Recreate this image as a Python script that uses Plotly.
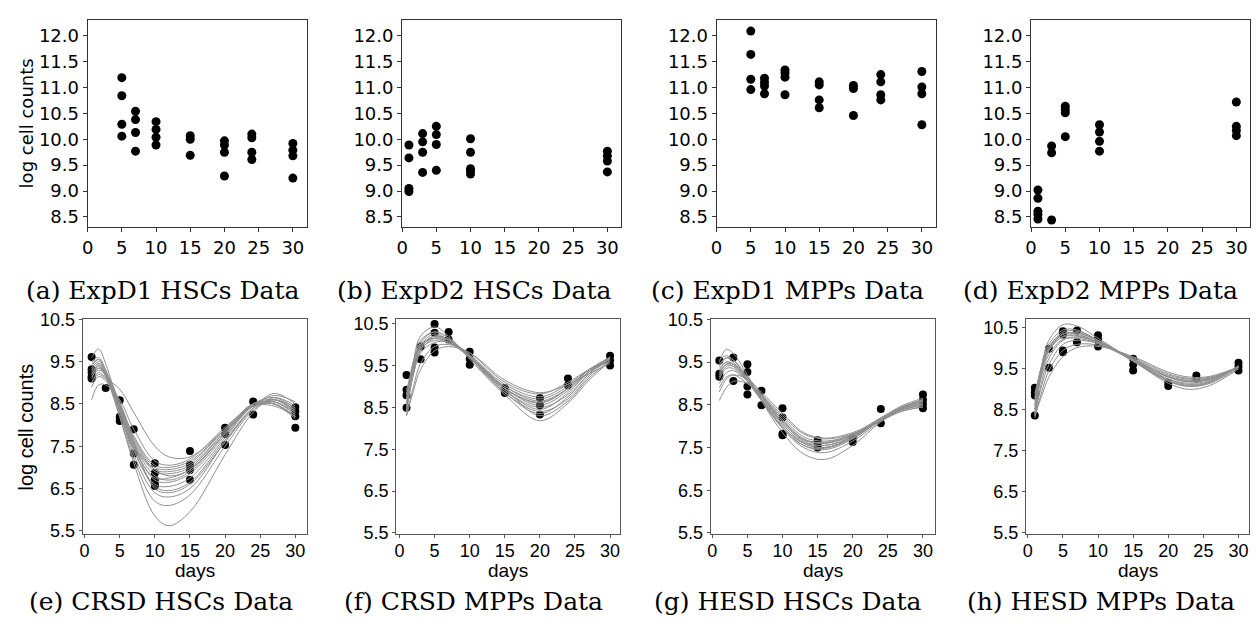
import plotly.graph_objects as go

# ---------------- top row: raw data ----------------
a_days = [5, 5, 5, 5, 7, 7, 7, 7, 10, 10, 10, 10, 15, 15, 15, 20, 20, 20, 20, 24, 24, 24, 24, 30, 30, 30, 30]
a_vals = [11.19, 10.84, 10.29, 10.06, 10.54, 10.38, 10.13, 9.77, 10.34, 10.19, 10.04, 9.89,
          10.07, 10.0, 9.69, 9.97, 9.89, 9.75, 9.29, 10.1, 10.03, 9.75, 9.61, 9.92, 9.79, 9.68, 9.25]

b_days = [1, 1, 1, 1, 3, 3, 3, 3, 5, 5, 5, 5, 10, 10, 10, 10, 10, 30, 30, 30, 30]
b_vals = [9.89, 9.64, 9.05, 8.99, 10.11, 9.95, 9.75, 9.36, 10.25, 10.09, 9.9, 9.4,
          10.01, 9.75, 9.43, 9.39, 9.33, 9.77, 9.68, 9.58, 9.37]

c_days = [5, 5, 5, 5, 7, 7, 7, 7, 10, 10, 10, 10, 15, 15, 15, 15, 20, 20, 20, 24, 24, 24, 24, 30, 30, 30, 30]
c_vals = [12.09, 11.64, 11.16, 10.96, 11.18, 11.1, 11.03, 10.88, 11.34, 11.28, 11.2, 10.86,
          11.11, 11.05, 10.76, 10.61, 11.04, 10.98, 10.46, 11.25, 11.11, 10.86, 10.76, 11.31, 11.01, 10.88, 10.28]

d_days = [1, 1, 1, 1, 1, 3, 3, 3, 5, 5, 5, 5, 10, 10, 10, 10, 30, 30, 30, 30]
d_vals = [9.02, 8.86, 8.61, 8.55, 8.46, 9.87, 9.74, 8.44, 10.64, 10.57, 10.51, 10.05,
          10.28, 10.14, 9.96, 9.77, 10.72, 10.25, 10.17, 10.07]

# ---------------- bottom row: data points ----------------
e_days = [1, 1, 1, 1, 1, 3, 5, 5, 5, 7, 7, 7, 10, 10, 10, 10, 10, 15, 15, 15, 15, 20, 20, 20, 24, 24, 30, 30, 30, 30]
e_vals = [9.61, 9.32, 9.25, 9.15, 9.1, 8.88, 8.59, 8.2, 8.1, 7.9, 7.33, 7.06, 7.1, 6.87, 6.71, 6.6, 6.56,
          7.39, 7.06, 6.94, 6.71, 7.94, 7.79, 7.53, 8.56, 8.25, 8.42, 8.33, 8.21, 7.94]

f_days = [1, 1, 1, 1, 3, 3, 5, 5, 5, 5, 7, 7, 10, 10, 10, 15, 15, 20, 20, 20, 24, 24, 30, 30, 30]
f_vals = [9.27, 8.92, 8.79, 8.49, 9.95, 9.65, 10.49, 10.28, 9.93, 9.81, 10.3, 10.12, 9.83, 9.66, 9.52,
          8.96, 8.84, 8.72, 8.55, 8.33, 9.19, 9.03, 9.73, 9.62, 9.5]

g_days = [1, 1, 1, 3, 3, 5, 5, 5, 5, 7, 7, 10, 10, 10, 10, 15, 15, 15, 20, 20, 24, 24, 30, 30, 30, 30]
g_vals = [9.54, 9.23, 9.16, 9.61, 9.06, 9.45, 9.27, 8.93, 8.74, 8.83, 8.49, 8.42, 8.2, 7.82, 7.79,
          7.67, 7.6, 7.5, 7.73, 7.63, 8.4, 8.07, 8.74, 8.62, 8.52, 8.42]

h_days = [1, 1, 1, 1, 3, 3, 5, 5, 5, 5, 7, 7, 10, 10, 10, 15, 15, 15, 20, 20, 24, 24, 30, 30, 30]
h_vals = [9.04, 8.93, 8.85, 8.36, 9.99, 9.53, 10.42, 10.34, 9.95, 9.91, 10.44, 10.15, 10.32, 10.21, 10.05,
          9.75, 9.6, 9.46, 9.16, 9.08, 9.34, 9.26, 9.65, 9.56, 9.46]

# ---------------- bottom row: fitted trajectories ----------------
e_curve_days = [1, 2, 3, 5, 7, 10, 12, 15, 20, 24, 27, 30]
e_curves = [
    [9.3, 9.45, 9.2, 8.2, 7.1, 5.85, 5.62, 5.95, 7.3, 8.3, 8.65, 8.45],
    [9.2, 9.4, 9.15, 8.2, 7.2, 6.2, 6.1, 6.35, 7.5, 8.35, 8.6, 8.4],
    [9.4, 9.55, 9.25, 8.3, 7.3, 6.4, 6.3, 6.5, 7.6, 8.4, 8.6, 8.35],
    [9.1, 9.35, 9.15, 8.35, 7.4, 6.55, 6.45, 6.65, 7.65, 8.4, 8.6, 8.3],
    [9.5, 9.6, 9.3, 8.3, 7.4, 6.6, 6.55, 6.75, 7.7, 8.45, 8.55, 8.25],
    [9.3, 9.45, 9.2, 8.4, 7.5, 6.7, 6.65, 6.85, 7.75, 8.45, 8.55, 8.3],
    [9.25, 9.4, 9.2, 8.45, 7.55, 6.8, 6.7, 6.9, 7.8, 8.45, 8.5, 8.2],
    [9.6, 9.8, 9.45, 8.4, 7.45, 6.75, 6.75, 6.95, 7.8, 8.5, 8.6, 8.35],
    [9.0, 9.25, 9.1, 8.45, 7.6, 6.9, 6.85, 7.0, 7.85, 8.5, 8.55, 8.25],
    [9.35, 9.5, 9.25, 8.5, 7.65, 6.95, 6.9, 7.05, 7.85, 8.45, 8.5, 8.2],
    [8.9, 9.15, 9.05, 8.5, 7.7, 7.0, 6.95, 7.1, 7.9, 8.5, 8.5, 8.15],
    [9.45, 9.55, 9.3, 8.55, 7.75, 7.05, 7.0, 7.15, 7.9, 8.5, 8.5, 8.2],
    [8.6, 8.95, 8.95, 8.6, 7.9, 7.15, 7.05, 7.2, 7.95, 8.45, 8.45, 8.2],
    [9.0, 9.2, 9.1, 8.85, 8.3, 7.5, 7.25, 7.25, 7.9, 8.45, 8.7, 8.55],
    [9.15, 9.3, 9.2, 8.5, 7.6, 6.5, 6.4, 6.6, 7.6, 8.4, 8.75, 8.5],
    [9.2, 9.35, 9.2, 8.4, 7.5, 6.95, 6.8, 6.95, 7.8, 8.5, 8.65, 8.4],
]

f_curve_days = [1, 2, 3, 5, 7, 10, 15, 20, 24, 27, 30]
f_curves = [
    [8.4, 9.6, 10.2, 10.42, 10.2, 9.65, 8.8, 8.18, 8.6, 9.15, 9.6],
    [8.6, 9.6, 10.1, 10.3, 10.15, 9.7, 8.85, 8.35, 8.75, 9.3, 9.7],
    [8.7, 9.55, 10.0, 10.25, 10.1, 9.7, 8.9, 8.45, 8.85, 9.35, 9.7],
    [8.5, 9.4, 9.95, 10.2, 10.1, 9.72, 8.95, 8.55, 8.9, 9.35, 9.65],
    [8.8, 9.5, 9.95, 10.15, 10.05, 9.7, 8.95, 8.6, 8.95, 9.4, 9.65],
    [8.4, 9.3, 9.85, 10.15, 10.1, 9.75, 9.0, 8.65, 8.95, 9.35, 9.6],
    [8.9, 9.5, 9.9, 10.1, 10.05, 9.72, 9.0, 8.7, 9.0, 9.4, 9.65],
    [8.6, 9.3, 9.8, 10.05, 10.05, 9.75, 9.05, 8.75, 9.05, 9.4, 9.6],
    [8.3, 9.0, 9.55, 9.95, 10.0, 9.8, 9.1, 8.82, 9.1, 9.4, 9.6],
    [8.3, 8.9, 9.4, 9.85, 9.95, 9.8, 9.15, 8.85, 9.05, 9.3, 9.55],
    [8.7, 9.45, 9.95, 10.2, 10.1, 9.7, 8.9, 8.5, 8.8, 9.3, 9.7],
    [8.55, 9.5, 10.05, 10.3, 10.15, 9.68, 8.85, 8.4, 8.7, 9.25, 9.68],
    [8.8, 9.6, 10.0, 10.15, 10.05, 9.7, 8.95, 8.62, 8.95, 9.4, 9.7],
    [8.45, 9.35, 9.9, 10.2, 10.12, 9.72, 8.95, 8.3, 8.65, 9.2, 9.62],
]

g_curve_days = [1, 2, 3, 5, 7, 10, 13, 16, 20, 24, 27, 30]
g_curves = [
    [9.5, 9.8, 9.7, 9.2, 8.6, 7.85, 7.35, 7.22, 7.55, 8.1, 8.4, 8.55],
    [9.4, 9.6, 9.55, 9.15, 8.65, 7.95, 7.5, 7.38, 7.65, 8.12, 8.42, 8.6],
    [9.3, 9.5, 9.45, 9.1, 8.65, 8.0, 7.55, 7.45, 7.7, 8.15, 8.42, 8.58],
    [9.2, 9.45, 9.4, 9.05, 8.65, 8.05, 7.6, 7.5, 7.72, 8.15, 8.4, 8.55],
    [9.55, 9.65, 9.55, 9.1, 8.6, 7.95, 7.55, 7.48, 7.72, 8.15, 8.43, 8.6],
    [9.1, 9.35, 9.35, 9.05, 8.7, 8.1, 7.65, 7.55, 7.75, 8.15, 8.4, 8.52],
    [9.0, 9.25, 9.3, 9.05, 8.7, 8.15, 7.7, 7.6, 7.78, 8.15, 8.38, 8.5],
    [9.35, 9.5, 9.45, 9.1, 8.7, 8.1, 7.68, 7.6, 7.8, 8.18, 8.45, 8.62],
    [8.9, 9.15, 9.2, 9.0, 8.72, 8.2, 7.75, 7.65, 7.8, 8.15, 8.38, 8.48],
    [8.6, 8.9, 9.05, 9.0, 8.75, 8.25, 7.82, 7.7, 7.82, 8.12, 8.35, 8.45],
    [9.25, 9.45, 9.45, 9.15, 8.75, 8.15, 7.7, 7.62, 7.82, 8.2, 8.45, 8.6],
    [9.45, 9.6, 9.5, 9.05, 8.6, 7.98, 7.6, 7.5, 7.75, 8.18, 8.48, 8.65],
    [8.8, 9.1, 9.2, 9.1, 8.8, 8.3, 7.85, 7.72, 7.85, 8.15, 8.35, 8.45],
    [9.15, 9.4, 9.4, 9.1, 8.7, 8.05, 7.62, 7.55, 7.76, 8.16, 8.44, 8.62],
]

h_curve_days = [1, 2, 3, 5, 7, 10, 15, 20, 23, 26, 30]
h_curves = [
    [8.5, 9.6, 10.2, 10.58, 10.55, 10.25, 9.7, 9.15, 9.0, 9.1, 9.5],
    [8.6, 9.6, 10.1, 10.45, 10.45, 10.2, 9.7, 9.2, 9.07, 9.15, 9.52],
    [8.4, 9.4, 9.95, 10.35, 10.38, 10.2, 9.72, 9.25, 9.12, 9.2, 9.55],
    [8.8, 9.6, 10.05, 10.35, 10.35, 10.15, 9.7, 9.25, 9.15, 9.22, 9.55],
    [8.9, 9.55, 9.95, 10.3, 10.32, 10.15, 9.72, 9.3, 9.18, 9.25, 9.55],
    [8.35, 9.2, 9.75, 10.2, 10.28, 10.15, 9.75, 9.3, 9.2, 9.25, 9.55],
    [8.6, 9.35, 9.85, 10.22, 10.25, 10.12, 9.72, 9.32, 9.22, 9.27, 9.55],
    [8.4, 9.1, 9.6, 10.1, 10.2, 10.12, 9.75, 9.35, 9.25, 9.28, 9.55],
    [8.3, 8.95, 9.45, 9.95, 10.1, 10.08, 9.78, 9.38, 9.27, 9.3, 9.55],
    [8.35, 8.85, 9.3, 9.8, 10.02, 10.05, 9.8, 9.42, 9.3, 9.32, 9.55],
    [8.7, 9.55, 10.0, 10.35, 10.38, 10.18, 9.7, 9.22, 9.1, 9.18, 9.55],
    [8.5, 9.45, 10.0, 10.4, 10.42, 10.2, 9.68, 9.2, 9.08, 9.17, 9.58],
    [8.75, 9.5, 9.95, 10.28, 10.3, 10.14, 9.74, 9.3, 9.2, 9.25, 9.56],
]

captions = ["(a) ExpD1 HSCs Data", "(b) ExpD2 HSCs Data", "(c) ExpD1 MPPs Data", "(d) ExpD2 MPPs Data",
            "(e) CRSD HSCs Data", "(f) CRSD MPPs Data", "(g) HESD HSCs Data", "(h) HESD MPPs Data"]
top_yticks = [8.5, 9.0, 9.5, 10.0, 10.5, 11.0, 11.5, 12.0]
bottom_yticks = [5.5, 6.5, 7.5, 8.5, 9.5, 10.5]
xticks = [0, 5, 10, 15, 20, 25, 30]

# ---------------- layout geometry (pixels) ----------------
W, H = 1256, 632
top_px = [(82, 302), (398, 618), (714, 934), (1030, 1250)]
top_py = (10, 224)
bot_px = [(77, 302), (392, 617), (708, 933), (1025, 1249)]
bot_py = (319, 540)
bot_xr = [(-0.28, 31.6), (-0.48, 31.42), (-0.24, 31.65), (-0.24, 31.5)]
bot_yr = [(5.43, 10.5), (5.48, 10.6), (5.48, 10.5), (5.47, 10.71)]
cap_x = [157, 471, 785, 1100, 156, 470, 785, 1100]

fig = go.Figure()

top_data = [(a_days, a_vals), (b_days, b_vals), (c_days, c_vals), (d_days, d_vals)]
bot_data = [(e_days, e_vals), (f_days, f_vals), (g_days, g_vals), (h_days, h_vals)]
bot_curves = [(e_curve_days, e_curves), (f_curve_days, f_curves), (g_curve_days, g_curves), (h_curve_days, h_curves)]

layout = dict(width=W, height=H, margin=dict(l=0, r=0, t=0, b=0), showlegend=False,
              paper_bgcolor="white", plot_bgcolor="white")

for i in range(4):
    n = i + 1
    xa, ya = ("x" if n == 1 else f"x{n}"), ("y" if n == 1 else f"y{n}")
    xs, ys = top_data[i]
    fig.add_trace(go.Scatter(x=xs, y=ys, mode="markers", xaxis=xa, yaxis=ya,
                             marker=dict(color="black", size=9)))
    x0, x1 = top_px[i]
    layout[f"xaxis{'' if n == 1 else n}"] = dict(
        domain=[x0 / W, x1 / W], anchor=ya, range=[0, 32], tickvals=xticks,
        showgrid=False, zeroline=False, showline=True, mirror=True, linecolor="#333", linewidth=1,
        ticks="outside", ticklen=4, tickcolor="#333",
        tickfont=dict(family="DejaVu Sans", size=18, color="black"))
    layout[f"yaxis{'' if n == 1 else n}"] = dict(
        domain=[1 - top_py[1] / H, 1 - top_py[0] / H], anchor=xa, range=[8.3, 12.31],
        tickvals=top_yticks, tickformat=".1f",
        showgrid=False, zeroline=False, showline=True, mirror=True, linecolor="#333", linewidth=1,
        ticks="outside", ticklen=4, tickcolor="#333",
        tickfont=dict(family="DejaVu Sans", size=18, color="black"))

for i in range(4):
    n = i + 5
    xa, ya = f"x{n}", f"y{n}"
    xs, ys = bot_data[i]
    fig.add_trace(go.Scatter(x=xs, y=ys, mode="markers", xaxis=xa, yaxis=ya,
                             marker=dict(color="black", size=8)))
    cd, cv = bot_curves[i]
    for curve in cv:
        fig.add_trace(go.Scatter(x=cd, y=curve, mode="lines", xaxis=xa, yaxis=ya,
                                 line=dict(color="#8f8f8f", width=1, shape="spline", smoothing=1.0)))
    x0, x1 = bot_px[i]
    layout[f"xaxis{n}"] = dict(
        domain=[x0 / W, x1 / W], anchor=ya, range=list(bot_xr[i]), tickvals=xticks,
        showgrid=False, zeroline=False, showline=True, mirror=True, linecolor="#555", linewidth=1.2,
        ticks="outside", ticklen=3, tickcolor="#555", ticklabelstandoff=-2,
        tickfont=dict(family="Liberation Sans", size=18, color="black"))
    layout[f"yaxis{n}"] = dict(
        domain=[1 - bot_py[1] / H, 1 - bot_py[0] / H], anchor=xa, range=list(bot_yr[i]),
        tickvals=bottom_yticks, tickformat=".1f",
        showgrid=False, zeroline=False, showline=True, mirror=True, linecolor="#555", linewidth=1.2,
        ticks="outside", ticklen=3, tickcolor="#555",
        tickfont=dict(family="Liberation Sans", size=18, color="black"))

annotations = []
for k, cap in enumerate(captions):
    yy = 289 if k < 4 else 610
    annotations.append(dict(text=cap, x=cap_x[k] / W, y=1 - yy / H, xref="paper", yref="paper",
                            xanchor="center", yanchor="middle", showarrow=False,
                            font=dict(family="DejaVu Serif", size=25, color="black")))
annotations.append(dict(text="log cell counts", x=21 / W, y=1 - 117 / H, xref="paper", yref="paper",
                        textangle=-90, xanchor="center", yanchor="middle", showarrow=False,
                        font=dict(family="DejaVu Sans", size=18, color="black")))
annotations.append(dict(text="log cell counts", x=20 / W, y=1 - 429.5 / H, xref="paper", yref="paper",
                        textangle=-90, xanchor="center", yanchor="middle", showarrow=False,
                        font=dict(family="Liberation Sans", size=20, color="black")))
for i in range(4):
    x0, x1 = bot_px[i]
    annotations.append(dict(text="days", x=((x0 + x1) / 2) / W, y=1 - 578 / H, xref="paper", yref="paper",
                            xanchor="center", yanchor="middle", showarrow=False,
                            font=dict(family="Liberation Sans", size=19, color="black")))
layout["annotations"] = annotations
fig.update_layout(**layout)

# remove the browser's default 8px body margin so the figure sits at the page origin
fig.write_html("out.html", config={"displayModeBar": False},
               post_script="document.body.style.margin='0px';")
